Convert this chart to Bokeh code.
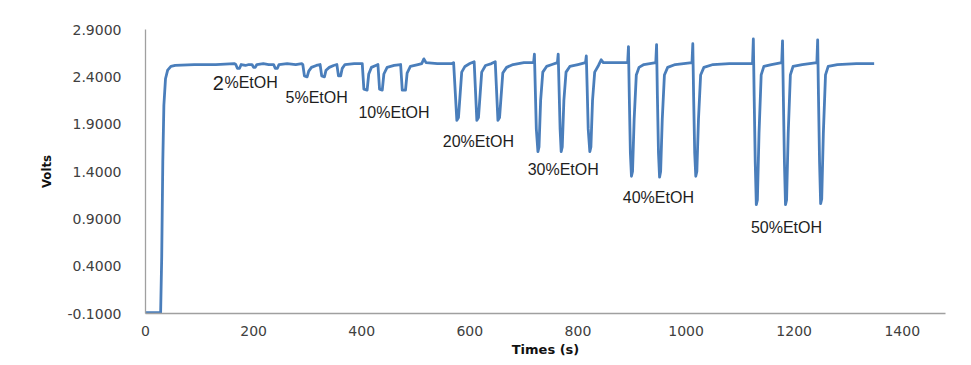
from bokeh.plotting import figure
from bokeh.models import FixedTicker, NumeralTickFormatter, Range1d
from bokeh.core.properties import value
from bokeh.embed import file_html
from bokeh.resources import INLINE

# ---- data ----
time_s = [
    0, 28, 30, 32, 34, 37, 41, 47, 55, 90, 130, 164,
    # 2 %
    167, 170, 174, 177, 185, 191, 197, 200, 203, 206, 218, 228, 237, 240, 244, 247, 262, 278, 289,
    # 5 %
    291, 294, 299, 302, 307, 316, 323, 326, 331, 334, 340, 348, 354, 357, 361, 364, 369, 386, 399,
    # 10 %
    401, 404, 410, 413, 418, 426, 430, 433, 438, 441, 447, 460, 472, 475, 481, 484, 490, 504, 511, 515, 519, 540, 567,
    # 20 %
    570, 576, 579, 585, 591, 600, 608, 613, 616, 622, 629, 640, 647, 652, 655, 661, 668, 680, 700, 717,
    # 30 %
    718, 719.5, 721, 723, 726, 728, 731, 735, 742, 752, 762, 763.5, 765, 767, 769, 771, 774, 778, 785, 800,
    814, 815.5, 817, 819, 822, 824, 827, 831, 838, 843, 847, 870, 891,
    # 40 %
    892, 893.5, 895, 897, 899, 901, 904, 908, 913, 922, 944, 945.5, 947, 949, 951, 953, 956, 960, 966, 980,
    1011, 1012.5, 1014, 1016, 1018, 1020, 1023, 1027, 1033, 1050, 1080, 1110, 1123,
    # 50 %
    1124.5, 1126, 1128, 1130, 1132, 1135, 1139, 1144, 1158, 1177, 1178.5, 1180, 1182, 1184, 1186, 1189, 1193,
    1198, 1215, 1242, 1243.5, 1245, 1247, 1249, 1251, 1254, 1258, 1263, 1280, 1315, 1348,
]
volts = [
    -0.09, -0.09, 0.5, 1.5, 2.1, 2.38, 2.47, 2.51, 2.52, 2.53, 2.53, 2.54,
    # 2 %
    2.53, 2.49, 2.49, 2.53, 2.52, 2.53, 2.53, 2.50, 2.50, 2.53, 2.54, 2.53, 2.53, 2.49, 2.49, 2.53, 2.54, 2.53, 2.54,
    # 5 %
    2.53, 2.41, 2.40, 2.46, 2.50, 2.52, 2.53, 2.41, 2.40, 2.47, 2.50, 2.52, 2.53, 2.41, 2.41, 2.49, 2.53, 2.54, 2.54,
    # 10 %
    2.54, 2.27, 2.26, 2.43, 2.50, 2.52, 2.53, 2.27, 2.26, 2.43, 2.50, 2.52, 2.53, 2.26, 2.26, 2.44, 2.51, 2.53, 2.54,
    2.59, 2.55, 2.54, 2.54,
    # 20 %
    2.55, 1.94, 1.97, 2.45, 2.51, 2.54, 2.56, 1.94, 1.97, 2.45, 2.52, 2.54, 2.56, 1.94, 1.97, 2.44, 2.50, 2.53, 2.55, 2.55,
    # 30 %
    2.55, 2.64, 2.3, 1.85, 1.61, 1.66, 2.15, 2.45, 2.51, 2.53, 2.55, 2.64, 2.3, 1.85, 1.61, 1.66, 2.15, 2.45, 2.51, 2.53,
    2.55, 2.62, 2.3, 1.85, 1.61, 1.66, 2.15, 2.45, 2.52, 2.58, 2.55, 2.55, 2.55,
    # 40 %
    2.55, 2.72, 2.2, 1.6, 1.35, 1.40, 1.95, 2.42, 2.50, 2.53, 2.55, 2.74, 2.2, 1.6, 1.34, 1.40, 1.95, 2.42, 2.50, 2.53,
    2.55, 2.75, 2.2, 1.6, 1.35, 1.40, 1.95, 2.42, 2.50, 2.53, 2.54, 2.54, 2.54,
    # 50 %
    2.80, 2.2, 1.5, 1.05, 1.10, 1.8, 2.42, 2.51, 2.53, 2.55, 2.78, 2.2, 1.5, 1.05, 1.10, 1.8, 2.42,
    2.51, 2.53, 2.55, 2.79, 2.2, 1.5, 1.06, 1.11, 1.8, 2.42, 2.51, 2.53, 2.54, 2.54,
]

x_ticks = [0, 200, 400, 600, 800, 1000, 1200, 1400]
y_ticks = [-0.1, 0.4, 0.9, 1.4, 1.9, 2.4, 2.9]

# concentration labels
conc_labels = ["%EtOH", "5%EtOH", "10%EtOH", "20%EtOH", "30%EtOH", "40%EtOH", "50%EtOH"]
conc_label_t = [146, 259, 394, 550, 707, 883, 1120]
conc_label_v = [2.34, 2.18, 2.02, 1.717, 1.421, 1.125, 0.808]
first_digit = ["2"]
first_digit_t = [145]
first_digit_v = [2.34]

p = figure(width=971, height=365, output_backend="svg", toolbar_location=None,
           x_range=Range1d(0, 1480), y_range=Range1d(-0.1, 2.9),
           min_border_left=145, min_border_right=26, min_border_top=29, min_border_bottom=52,
           background_fill_color="white", border_fill_color="white")
p.outline_line_color = None
p.xgrid.visible = False
p.ygrid.visible = False

p.line(time_s, volts, line_color="#4a7ebb", line_width=2.8, line_join="round")

p.text(conc_label_t, conc_label_v, text=conc_labels, text_font=value("Liberation Sans"),
       text_font_size="16px", text_align="left", text_baseline="middle", text_color="#1e1e1e")
p.text(first_digit_t, first_digit_v, text=first_digit, text_font=value("Liberation Sans"),
       text_font_size="20px", text_align="right", text_baseline="middle", text_color="#1e1e1e")

for ax in (p.xaxis[0], p.yaxis[0]):
    ax.axis_line_color = "#a0a0a0"
    ax.axis_line_width = 1.3
    ax.major_tick_line_color = None
    ax.minor_tick_line_color = None
    ax.major_label_text_font = "DejaVu Sans"
    ax.major_label_text_font_size = "14px"
    ax.major_label_text_color = "#404040"
    ax.axis_label_text_color = "#111111"
    ax.axis_label_text_font_style = "bold"

p.xaxis.ticker = FixedTicker(ticks=x_ticks)
p.xaxis.major_label_standoff = 6
p.xaxis.axis_label = "Times (s)"
p.xaxis.axis_label_text_font = "DejaVu Sans"
p.xaxis.axis_label_text_font_size = "13px"
p.xaxis.axis_label_standoff = 3

p.yaxis.ticker = FixedTicker(ticks=y_ticks)
p.yaxis.formatter = NumeralTickFormatter(format="0.0000")
p.yaxis.major_label_standoff = 18
p.yaxis.axis_label = "Volts"
p.yaxis.axis_label_text_font = "DejaVu Sans Condensed"
p.yaxis.axis_label_text_font_size = "13px"
p.yaxis.axis_label_standoff = 10

open("out.html", "w").write(file_html(p, INLINE))
